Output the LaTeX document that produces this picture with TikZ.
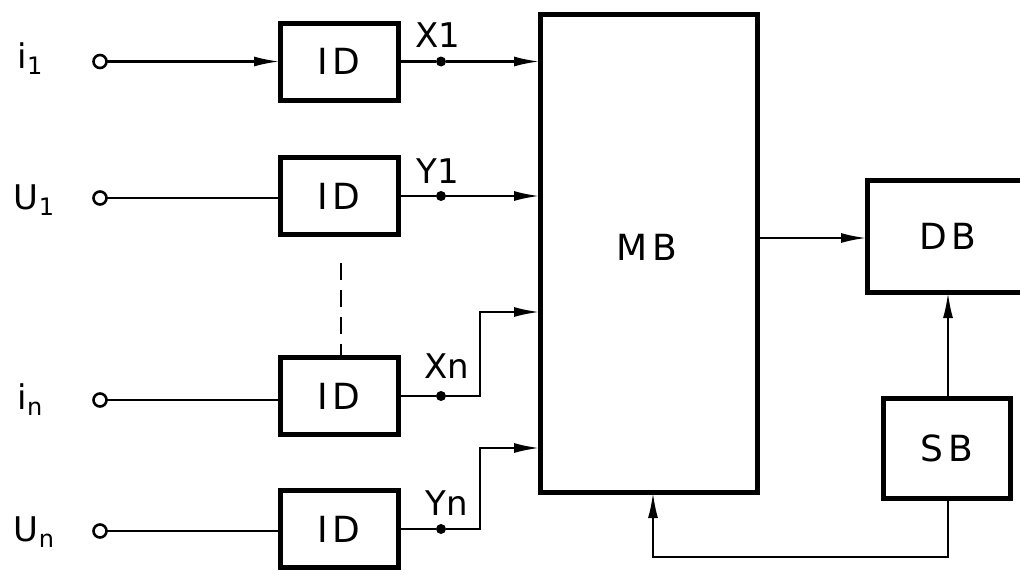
\documentclass[tikz,border=0pt]{standalone}
\usepackage{fontspec}
\setmainfont{DejaVu Sans}
\usetikzlibrary{arrows.meta}
\newcommand{\lsp}{\hspace{5pt}}
\newcommand{\subx}[1]{\raisebox{-6pt}{\fontsize{24}{26}\selectfont #1}}
\begin{document}
\begin{tikzpicture}[x=1pt,y=-1pt,
  thinline/.style={line width=2.6pt},
  blk/.style={draw, line width=5pt, rectangle, inner sep=0pt, outer sep=0pt, font=\fontsize{36}{40}\selectfont},
  idbox/.style={blk, minimum width=118pt, minimum height=77pt},
  term/.style={draw, circle, line width=2.6pt, minimum size=13pt, inner sep=0pt, outer sep=0pt, fill=white},
  dot/.style={fill, circle, minimum size=10pt, inner sep=0pt},
  lbl/.style={font=\fontsize{34}{38}\selectfont, inner sep=0pt},
  arr/.style={thinline, -{Latex[length=26pt,width=10pt]}}
]
\useasboundingbox (0,0) rectangle (1020,573);
\clip (0,0) rectangle (1020,573);
\fill[white] (0,0) rectangle (1020,573);

% input labels
\node[lbl] (li1) at (30,59) {i\subx{1}};
\node[lbl] (lu1) at (34,200) {U\subx{1}};
\node[lbl] (lin) at (30,400) {i\subx{n}};
\node[lbl] (lun) at (34,532) {U\subx{n}};

% ID boxes
\node[idbox] (id1) at (339,61.5) {I\lsp D};
\node[idbox] (id2) at (339,196) {I\lsp D};
\node[idbox] (id3) at (339,396) {I\lsp D};
\node[idbox] (id4) at (339,529) {I\lsp D};

% main blocks
\node[blk, minimum width=217pt, minimum height=478pt] (mb) at (648.5,253) {};
\node[lbl, font=\fontsize{36}{40}\selectfont] (mbl) at (647,247) {M\lsp B};
\node[blk, minimum width=162pt, minimum height=112pt] (db) at (948,236) {D\lsp B};
\node[blk, minimum width=127pt, minimum height=100pt] (sb) at (946.5,448) {S\lsp B};

% terminals
\node[term] (t1) at (100,61.5) {};
\node[term] (t2) at (100,198) {};
\node[term] (t3) at (100,400) {};
\node[term] (t4) at (100,531) {};

\draw[arr] (t1) -- (id1);
\draw[thinline] (t2) -- (id2.west |- t2);
\draw[thinline] (t3) -- (id3.west |- t3);
\draw[thinline] (t4) -- (id4.west |- t4);

% output dots
\node[dot] (d1) at (441,61.5) {};
\node[dot] (d2) at (441,196) {};
\node[dot] (d3) at (441,396) {};
\node[dot] (d4) at (441,529) {};

\node[lbl] (x1) at (438,35) {X1};
\node[lbl] (y1) at (438,171) {Y1};
\node[lbl] (xn) at (447,366) {Xn};
\node[lbl] (yn) at (447,503) {Yn};

\coordinate (c3) at (480,396);
\coordinate (c3u) at (480,312);
\coordinate (c4) at (480,529);
\coordinate (c4u) at (480,448);

\draw[thinline] (id1) -- (d1);
\draw[arr] (d1) -- (mb.west |- d1);
\draw[thinline] (id2) -- (d2);
\draw[arr] (d2) -- (mb.west |- d2);
\draw[thinline] (id3) -- (d3);
\draw[arr] (d3) -- (c3) -- (c3u) -- (mb.west |- c3u);
\draw[thinline] (id4) -- (d4);
\draw[arr] (d4) -- (c4) -- (c4u) -- (mb.west |- c4u);

% dashed continuation
\coordinate (da) at (341,263);
\draw[thinline, dash pattern=on 17pt off 10pt] (da) -- (id3.north -| da);

% right part
\draw[arr] (mb.east |- 0,238) -- (db.west |- 0,238);
\draw[arr] (sb.north -| 948,0) -- (db.south -| 948,0);
\coordinate (fb1) at (948,557);
\coordinate (fb2) at (653,557);
\draw[arr] (sb.south -| fb1) -- (fb1) -- (fb2) -- (mb.south -| fb2);
\end{tikzpicture}
\end{document}
